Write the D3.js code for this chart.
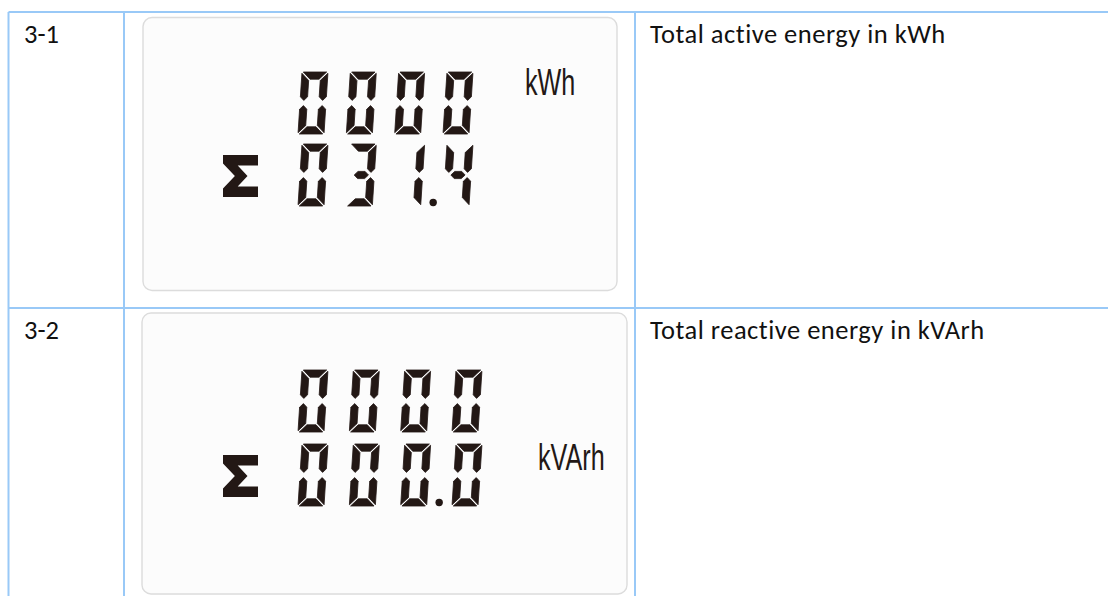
<!DOCTYPE html>
<html>
<head>
<meta charset="utf-8">
<script src="https://cdn.jsdelivr.net/npm/d3@7"></script>
<style>
  body { margin: 0; background: #fff; }
  svg { display: block; }
</style>
</head>
<body>
<script>
/*table data*/
const rowIds = ['3-1', '3-2'];
const descriptions = ['Total active energy in kWh', 'Total reactive energy in kVArh'];
const upperReadings = ['0000', '0000'];
const lowerReadings = ['031.4', '000.0'];
const units = ['kWh', 'kVArh'];

/*canvas size*/
const width = 1108;
const height = 596;

/*table grid*/
const colX = [8.5, 124, 635];
const rowY = [12, 308];
const gridColor = '#99c9f7';
const ink = '#231815';

/*lcd layout per row*/
const panels = [
  { x: 143, y: 17.5, w: 474, h: 273, x0: 298, x1: 443, top: 72, gap: 72, unitX: 525, unitY: 95 },
  { x: 142, y: 313, w: 485, h: 281, x0: 298, x1: 452, top: 370, gap: 74, unitX: 538, unitY: 470 }
];

const svg = d3.select('body')
  .append('svg')
  .attr('width', width)
  .attr('height', height);

/*grid lines*/
const grid = svg.append('g').attr('stroke', gridColor).attr('stroke-width', 2);
grid.selectAll('line.h').data(rowY).enter().append('line')
  .attr('x1', colX[0]).attr('x2', width).attr('y1', d => d).attr('y2', d => d);
grid.selectAll('line.v').data(colX).enter().append('line')
  .attr('x1', d => d).attr('x2', d => d).attr('y1', rowY[0]).attr('y2', height);

/*text cells*/
const textFont = 'Carlito, Lato, "Open Sans", sans-serif';
svg.append('g').selectAll('text').data(rowIds).enter().append('text')
  .attr('x', 24).attr('y', (d, i) => rowY[i] + 31)
  .attr('font-family', textFont).attr('font-size', 26.5).attr('fill', '#111')
  .text(d => d);
svg.append('g').selectAll('text').data(descriptions).enter().append('text')
  .attr('x', 650).attr('y', (d, i) => rowY[i] + 31)
  .attr('font-family', textFont).attr('font-size', 26.5).attr('letter-spacing', 0.5).attr('fill', '#111')
  .text(d => d);

/*seven segment geometry*/
const dw = 26, dh = 62, t = 7.2, g = 1.3, mg = 2.6, mid = dh / 2;
const seg = {
  a: [[g, 0], [dw - g, 0], [dw - g - t, t], [g + t, t]],
  d: [[g, dh], [dw - g, dh], [dw - g - t, dh - t], [g + t, dh - t]],
  f: [[0, g], [t, g + t], [t, mid - mg - t / 2], [t / 2, mid - mg], [0, mid - mg - t / 2]],
  e: [[0, dh - g], [t, dh - g - t], [t, mid + mg + t / 2], [t / 2, mid + mg], [0, mid + mg + t / 2]],
  g: [[g + t / 2 + 1, mid], [g + t + 1, mid - t / 2], [dw - g - t - 1, mid - t / 2], [dw - g - t / 2 - 1, mid], [dw - g - t - 1, mid + t / 2], [g + t + 1, mid + t / 2]]
};
seg.b = seg.f.map(p => [dw - p[0], p[1]]);
seg.c = seg.e.map(p => [dw - p[0], p[1]]);
const digitSegs = {
  '0': 'abcdef', '1': 'bc', '2': 'abged', '3': 'abcdg', '4': 'bcfg',
  '5': 'afgcd', '6': 'afgedc', '7': 'abc', '8': 'abcdefg', '9': 'abcdfg'
};

/*split a reading into digits with decimal point flag*/
function parseReading(s) {
  const out = [];
  for (const ch of s) {
    if (ch === '.') out[out.length - 1].dp = true;
    else out.push({ ch: ch, dp: false });
  }
  return out;
}

/*sigma outline in unit box*/
const sigma = [[0, 0], [1, 0], [1, 0.25], [0.42, 0.25], [0.7, 0.5], [0.42, 0.75], [1, 0.75], [1, 1], [0, 1], [0, 0.8], [0.34, 0.5], [0, 0.2]];

panels.forEach((p, r) => {
  const lcd = svg.append('g').attr('class', 'lcd');
  lcd.append('rect')
    .attr('x', p.x).attr('y', p.y).attr('width', p.w).attr('height', p.h)
    .attr('rx', 9).attr('fill', '#fcfcfc').attr('stroke', '#dcdcdc').attr('stroke-width', 1.4);

  const xScale = d3.scaleLinear().domain([0, 3]).range([p.x0, p.x1]);
  const yScale = d3.scaleLinear().domain([0, 1]).range([p.top, p.top + p.gap]);

  [upperReadings[r], lowerReadings[r]].forEach((reading, line) => {
    parseReading(reading).forEach((dg, i) => {
      const cell = lcd.append('g')
        .attr('transform', `translate(${xScale(i) + 4},${yScale(line)}) skewX(-3.7)`);
      cell.selectAll('path').data(digitSegs[dg.ch].split('')).enter().append('path')
        .attr('d', s => d3.line()(seg[s]) + 'Z')
        .attr('fill', ink).attr('stroke', ink).attr('stroke-width', 0.8).attr('stroke-linejoin', 'round');
      if (dg.dp) {
        lcd.append('circle')
          .attr('cx', xScale(i) + 38.5).attr('cy', yScale(line) + dh - 3.5)
          .attr('r', 3.7).attr('fill', ink);
      }
    });
  });

  /*sigma sign next to lower line*/
  const sx = d3.scaleLinear().domain([0, 1]).range([223, 258]);
  const sy = d3.scaleLinear().domain([0, 1]).range([yScale(1) + 11, yScale(1) + 53]);
  lcd.append('path')
    .attr('d', d3.line().x(d => sx(d[0])).y(d => sy(d[1]))(sigma) + 'Z')
    .attr('fill', ink);

  /*unit label*/
  lcd.append('text')
    .attr('transform', `translate(${p.unitX},${p.unitY}) scale(0.68,1)`)
    .attr('font-family', '"Liberation Sans", Arial, sans-serif')
    .attr('font-size', 37).attr('fill', ink)
    .text(units[r]);
});
</script>
</body>
</html>
